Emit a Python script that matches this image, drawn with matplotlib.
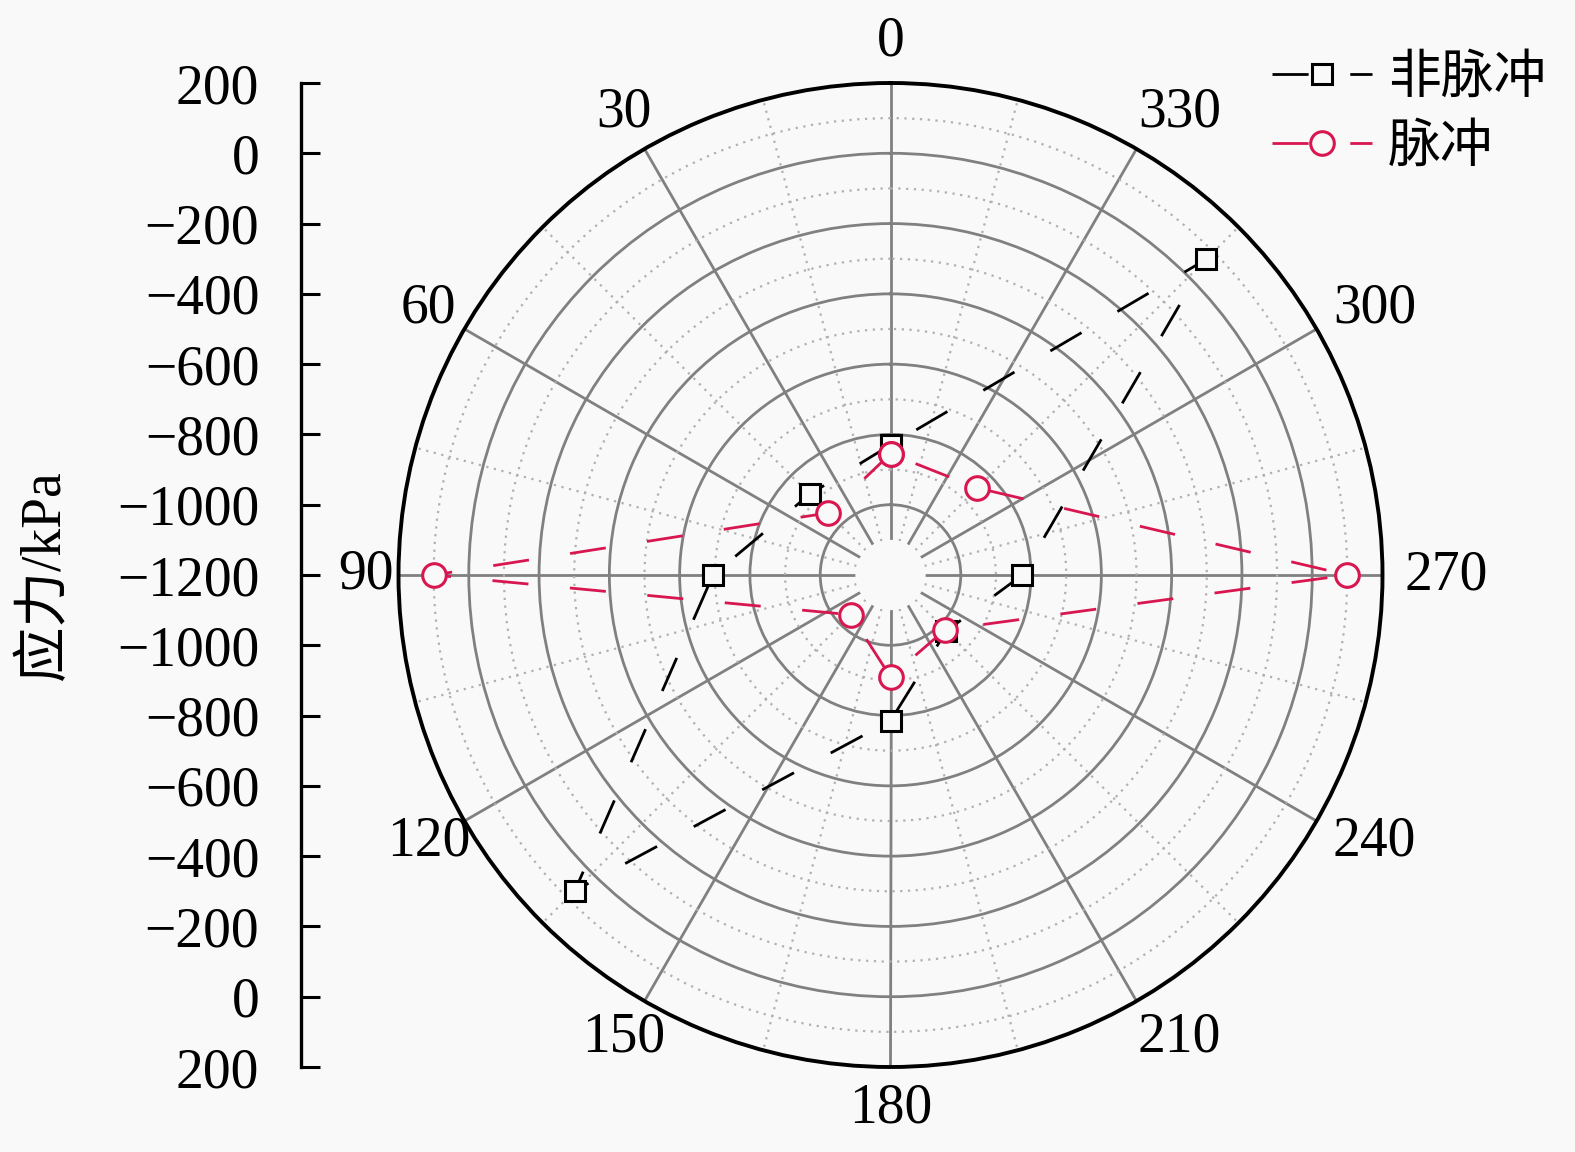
import numpy as np
import matplotlib
matplotlib.use('Agg')
import matplotlib.pyplot as plt
from matplotlib.transforms import Affine2D

# fonts: Times-like digits, CJK fallback
plt.rcParams['font.family'] = ['Liberation Serif', 'Noto Sans CJK SC']
plt.rcParams['axes.unicode_minus'] = True

# ---- data ----
angles   = [0, 45, 90, 135, 180, 225, 270, 315]                  # measuring angle, deg
nonpulse = [-830, -875, -695, 70, -785, -975, -825, 70]          # 非脉冲 stress, kPa
pulse    = [-855, -950, 100, -1040, -910, -980, 100, -850]       # 脉冲 stress, kPa
names    = ['非脉冲', '脉冲']

theta_major  = list(range(0, 360, 30))
theta_labels = [str(a) for a in theta_major]
theta_minor  = list(range(15, 360, 30))
r_major      = [-1000, -800, -600, -400, -200, 0]
r_minor      = [-900, -700, -500, -300, -100, 100]
r_origin     = -1200
r_min, r_max = -1100, 200

# left scale: distance from centre -> stress label
scale_pos    = list(range(-1400, 1401, 200))
scale_labels = [str(r_origin + abs(p)).replace('-', '\u2212') for p in scale_pos]

bg  = '#f9f9f9'
red = '#d8164f'

fig = plt.figure(figsize=(15.75, 11.52), dpi=100, facecolor=bg)
W, H = 1575, 1152
cx, cy, R = 890.5, 575, 492                                     # pixel layout of the polar disc
box = [(cx - R) / W, (H - cy - R) / H, 2 * R / W, 2 * R / H]

ax = fig.add_axes(box, projection='polar', facecolor=bg)
ax.set_theta_zero_location('N')
ax.set_theta_direction(1)
ax.set_rorigin(r_origin)
ax.set_ylim(r_min, r_max)

ax.set_xticks(np.deg2rad(theta_major))
ax.set_xticklabels(theta_labels, fontsize=40)
ax.set_xticks(np.deg2rad(theta_minor), minor=True)
ax.set_yticks(r_major)
ax.set_yticks(r_minor, minor=True)
ax.set_yticklabels([])

ax.grid(which='major', color='#808080', lw=2.0, ls='-')
ax.grid(which='minor', color='#b0b0b0', lw=1.6, ls=(0, (1, 2.5)))
ax.tick_params(axis='x', which='major', direction='in', length=14, width=2.2, pad=23)
ax.tick_params(axis='x', which='minor', direction='in', length=5, width=1.6)
ax.tick_params(axis='y', which='both', length=0)
ax.spines['polar'].set_linewidth(2.8)
ax.spines['inner'].set_visible(False)
ax.spines['inner'].set_linewidth(0)

# labels on the right half sit a little further out in the original
for a, tk in zip(theta_major, ax.xaxis.get_major_ticks()):
    shift = 22 if 180 < a < 360 else (9 if a == 90 else 0)
    if shift:
        tk.label1.set_transform(tk.label1.get_transform() + Affine2D().translate(shift, 0))

# closed loops
th = np.deg2rad(angles + [angles[0]])
ax.plot(th, nonpulse + [nonpulse[0]], color='black', lw=2.0, dashes=(13, 15),
        marker='s', ms=15, mfc=bg, mec='black', mew=2.2, label=names[0],
        zorder=3, clip_on=False)
ax.plot(th, pulse + [pulse[0]], color=red, lw=2.0, dashes=(13, 15),
        marker='o', ms=17, mfc=bg, mec=red, mew=2.2, label=names[1],
        zorder=4, clip_on=False)

# separate straight stress scale on the left
ax2 = fig.add_axes([301 / W, box[1], 0.0005, box[3]], facecolor='none')
ax2.set_ylim(-1400, 1400)
ax2.set_yticks(scale_pos)
ax2.set_yticklabels(scale_labels, fontsize=40)
ax2.set_xticks([])
for s in ['top', 'right', 'bottom']:
    ax2.spines[s].set_visible(False)
ax2.spines['left'].set_linewidth(2.4)
ax2.tick_params(axis='y', direction='in', length=14, width=2.2, pad=30)

fig.text(45 / W, 1 - cy / H, '应力/kPa', rotation=90, ha='center', va='center', fontsize=40)

h, l = ax.get_legend_handles_labels()
fig.legend(h, l, loc='upper left', bbox_to_anchor=(1272 / W, 1 - 55 / H),
           frameon=False, fontsize=38, handlelength=1.9, handletextpad=0.3,
           labelspacing=0.38, borderpad=0, borderaxespad=0)

fig.savefig('out.png', dpi=100, facecolor=bg)
